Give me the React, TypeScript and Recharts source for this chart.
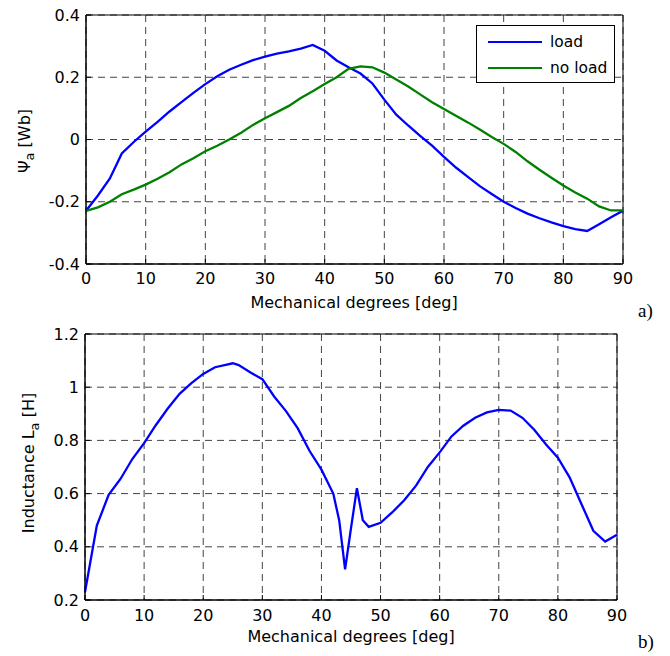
import { LineChart, Line, XAxis, YAxis, CartesianGrid, Legend, ReferenceArea, Label } from "recharts"

// a) flux linkage vs rotor position
const angleTop = [
  0, 2, 4, 6, 8, 10, 12, 14, 16, 18, 20, 22, 24, 26, 28, 30, 32, 34, 36, 38, 40, 42, 44,
  46, 48, 50, 52, 54, 56, 58, 60, 62, 64, 66, 68, 70, 72, 74, 76, 78, 80, 82, 84, 86, 88, 90,
]
const fluxLoad = [
  -0.229, -0.18, -0.125, -0.045, -0.008, 0.025, 0.057, 0.09, 0.12, 0.15, 0.178, 0.203, 0.224,
  0.24, 0.255, 0.266, 0.276, 0.283, 0.292, 0.304, 0.285, 0.254, 0.232, 0.212, 0.18, 0.128,
  0.08, 0.045, 0.012, -0.02, -0.056, -0.09, -0.12, -0.15, -0.175, -0.2, -0.22, -0.238, -0.253,
  -0.266, -0.278, -0.288, -0.294, -0.272, -0.25, -0.229,
]
const fluxNoLoad = [
  -0.229, -0.218, -0.2, -0.176, -0.161, -0.145, -0.126, -0.105, -0.08, -0.06, -0.038, -0.02,
  0.0, 0.022, 0.047, 0.068, 0.088, 0.108, 0.133, 0.155, 0.178, 0.2, 0.227, 0.235, 0.232,
  0.215, 0.193, 0.17, 0.145, 0.12, 0.098, 0.076, 0.055, 0.032, 0.008, -0.014, -0.04, -0.07,
  -0.097, -0.123, -0.148, -0.17, -0.19, -0.215, -0.228, -0.228,
]

// b) inductance vs rotor position
const angleBottom = [
  0, 2, 4, 6, 8, 10, 12, 14, 16, 18, 20, 22, 24, 25, 26, 28, 30, 32, 34, 36, 38, 40, 42, 43,
  44, 45, 46, 47, 48, 50, 52, 54, 56, 58, 60, 62, 64, 66, 68, 70, 72, 74, 76, 78, 80, 82, 84,
  86, 88, 90,
]
const inductance = [
  0.23, 0.48, 0.595, 0.655, 0.73, 0.79, 0.858, 0.92, 0.975, 1.015, 1.05, 1.075, 1.085, 1.09,
  1.083, 1.055, 1.03, 0.965, 0.91, 0.845, 0.76, 0.69, 0.6, 0.5, 0.315, 0.47, 0.62, 0.5, 0.475,
  0.49, 0.53, 0.575, 0.63, 0.7, 0.755, 0.815, 0.855, 0.885, 0.905, 0.915, 0.912, 0.885, 0.84,
  0.785, 0.735, 0.66, 0.56, 0.46, 0.42, 0.445,
]

const xTicks = [0, 10, 20, 30, 40, 50, 60, 70, 80, 90]
const fluxTicks = [-0.4, -0.2, 0, 0.2, 0.4]
const inductanceTicks = [0.2, 0.4, 0.6, 0.8, 1, 1.2]

const font = "DejaVu Sans"
const tickStyle = { fill: "#000", fontSize: 16, fontFamily: font }
const gridDash = "7 5"
const gridColor = "#444"

const topData = angleTop.map((x, i) => ({ x, load: fluxLoad[i], noLoad: fluxNoLoad[i] }))
const bottomData = angleBottom.map((x, i) => ({ x, L: inductance[i] }))

function FluxLegend({ payload }: any) {
  return (
    <div
      style={{
        border: "1px solid #000",
        background: "#fff",
        width: 139,
        height: 58,
        paddingTop: 3,
        boxSizing: "border-box",
        fontFamily: font,
        fontSize: 15.5,
      }}
    >
      {(payload || []).map((item: any) => (
        <div key={item.value} style={{ display: "flex", alignItems: "center", height: 26 }}>
          <span style={{ marginLeft: 11, width: 54, height: 2.5, background: item.color }} />
          <span style={{ marginLeft: 8 }}>{item.value}</span>
        </div>
      ))}
    </div>
  )
}

export default function App() {
  return (
    <div style={{ position: "absolute", left: 0, top: 0, width: 670, height: 656, background: "#fff" }}>
      <div style={{ position: "absolute", left: 0, top: 0 }}>
        <LineChart width={670} height={320} data={topData} margin={{ top: 15, right: 47, bottom: 26, left: 36 }}>
          <CartesianGrid stroke={gridColor} strokeDasharray={gridDash} />
          <XAxis
            dataKey="x"
            type="number"
            domain={[0, 90]}
            ticks={xTicks}
            height={30}
            tick={tickStyle}
            tickLine={{ stroke: "#000" }}
            tickSize={-5}
            tickMargin={14}
            axisLine={{ stroke: "#000" }}
          >
            <Label
              content={() => (
                <text x={354} y={308} textAnchor="middle" fontFamily={font} fontSize={16} fill="#000">
                  Mechanical degrees [deg]
                </text>
              )}
            />
          </XAxis>
          {/* mirrored axes on top / right, so the box gets inward ticks on all sides */}
          <XAxis
            xAxisId="top"
            orientation="top"
            dataKey="x"
            type="number"
            domain={[0, 90]}
            ticks={xTicks}
            height={0}
            tick={false}
            tickLine={{ stroke: "#000" }}
            tickSize={-5}
            axisLine={{ stroke: "#000" }}
          />
          <YAxis
            type="number"
            domain={[-0.4, 0.4]}
            ticks={fluxTicks}
            width={50}
            tick={tickStyle}
            tickLine={{ stroke: "#000" }}
            tickSize={-5}
            tickMargin={11}
            tickFormatter={(v) => String(v)}
            axisLine={{ stroke: "#000" }}
          >
            <Label
              content={() => (
                <text x={30} y={141} transform="rotate(-90, 30, 141)" textAnchor="middle" fontFamily={font} fontSize={16} fill="#000">
                  Ψ<tspan dy={4} fontSize={13}>a</tspan>
                  <tspan dy={-4}> [Wb]</tspan>
                </text>
              )}
            />
          </YAxis>
          <YAxis
            yAxisId="right"
            orientation="right"
            type="number"
            domain={[-0.4, 0.4]}
            ticks={fluxTicks}
            width={0}
            tick={false}
            tickLine={{ stroke: "#000" }}
            tickSize={-5}
            axisLine={{ stroke: "#000" }}
          />
          <ReferenceArea x1={0} x2={90} y1={-0.4} y2={0.4} stroke="#000" fill="none" />
          <Legend
            layout="vertical"
            align="center"
            verticalAlign="middle"
            content={FluxLegend}
            wrapperStyle={{ top: 25, left: 476, width: 139 }}
          />
          <Line type="linear" dataKey="load" name="load" stroke="#0000ff" strokeWidth={2.3} dot={false} isAnimationActive={false} />
          <Line type="linear" dataKey="noLoad" name="no load" stroke="#008000" strokeWidth={2.3} dot={false} isAnimationActive={false} />
        </LineChart>
      </div>

      <div style={{ position: "absolute", left: 0, top: 320 }}>
        <LineChart width={670} height={336} data={bottomData} margin={{ top: 14, right: 53, bottom: 26, left: 35 }}>
          <CartesianGrid stroke={gridColor} strokeDasharray={gridDash} />
          <XAxis
            dataKey="x"
            type="number"
            domain={[0, 90]}
            ticks={xTicks}
            height={30}
            tick={tickStyle}
            tickLine={{ stroke: "#000" }}
            tickSize={-5}
            tickMargin={15}
            axisLine={{ stroke: "#000" }}
          >
            <Label
              content={() => (
                <text x={351} y={322} textAnchor="middle" fontFamily={font} fontSize={16} fill="#000">
                  Mechanical degrees [deg]
                </text>
              )}
            />
          </XAxis>
          <XAxis
            xAxisId="top"
            orientation="top"
            dataKey="x"
            type="number"
            domain={[0, 90]}
            ticks={xTicks}
            height={0}
            tick={false}
            tickLine={{ stroke: "#000" }}
            tickSize={-5}
            axisLine={{ stroke: "#000" }}
          />
          <YAxis
            type="number"
            domain={[0.2, 1.2]}
            ticks={inductanceTicks}
            width={50}
            tick={tickStyle}
            tickLine={{ stroke: "#000" }}
            tickSize={-5}
            tickMargin={11}
            tickFormatter={(v) => String(v)}
            axisLine={{ stroke: "#000" }}
          >
            <Label
              content={() => (
                <text x={34} y={143} transform="rotate(-90, 34, 143)" textAnchor="middle" fontFamily={font} fontSize={16} fill="#000">
                  Inductance L<tspan dy={5} fontSize={13}>a</tspan>
                  <tspan dy={-5}> [H]</tspan>
                </text>
              )}
            />
          </YAxis>
          <YAxis
            yAxisId="right"
            orientation="right"
            type="number"
            domain={[0.2, 1.2]}
            ticks={inductanceTicks}
            width={0}
            tick={false}
            tickLine={{ stroke: "#000" }}
            tickSize={-5}
            axisLine={{ stroke: "#000" }}
          />
          <ReferenceArea x1={0} x2={90} y1={0.2} y2={1.2} stroke="#000" fill="none" />
          <Line type="linear" dataKey="L" stroke="#0000ff" strokeWidth={2.3} dot={false} isAnimationActive={false} />
        </LineChart>
      </div>

      <div style={{ position: "absolute", left: 638, top: 300, fontFamily: "Liberation Serif", fontSize: 19 }}>a)</div>
      <div style={{ position: "absolute", left: 638, top: 631, fontFamily: "Liberation Serif", fontSize: 19 }}>b)</div>
    </div>
  )
}
